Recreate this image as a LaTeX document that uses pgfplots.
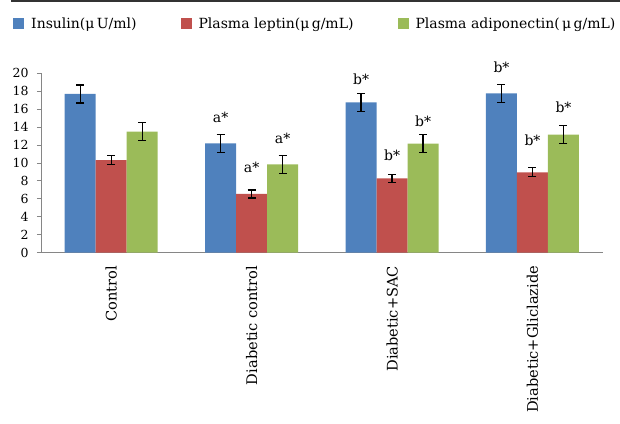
\documentclass[border=0pt]{standalone}
\usepackage{fontspec}
\setmainfont{DejaVu Serif}
\usepackage{pgfplots}
\usepackage{pgfplotstable}
\pgfplotsset{compat=1.18}

\definecolor{cBlue}{RGB}{79,129,189}
\definecolor{cRed}{RGB}{192,80,77}
\definecolor{cGreen}{RGB}{155,187,89}
\definecolor{axgray}{RGB}{134,134,134}

% x  value  error  label-baseline  label
\pgfplotstableread{
x y err ly lab
0 17.70 1.00 17.70 {}
1 12.20 1.00 14.57 {a*}
2 16.77 1.00 18.70 {b*}
3 17.77 1.00 20.07 {b*}
}\insulin
\pgfplotstableread{
x y err ly lab
0 10.33 0.50 10.33 {}
1 6.55 0.45 8.92 {a*}
2 8.29 0.45 10.33 {b*}
3 8.96 0.50 12.00 {b*}
}\leptin
\pgfplotstableread{
x y err ly lab
0 13.50 1.00 13.50 {}
1 9.85 1.00 12.20 {a*}
2 12.15 1.00 14.12 {b*}
3 13.16 1.00 15.60 {b*}
}\adipo

\begin{document}
\begin{tikzpicture}
\path[use as bounding box] (-41pt,-170.3pt) rectangle (579pt,252.7pt);
\begin{axis}[
    scale only axis,
    width=561.7pt, height=179.4pt,
    xmin=-0.5, xmax=3.5, ymin=0, ymax=20,
    ybar=0pt, bar width=31pt,
    axis lines*=left,
    axis line style={axgray, line width=1pt},
    tick align=outside,
    major tick length=4pt,
    ytick={0,2,...,20},
    y tick style={axgray, line width=1pt},
    yticklabel style={font=\fontsize{12.5}{14}\selectfont, xshift=-5pt,
        /pgf/number format/assume math mode=true},
    xtick={0,1,2,3},
    xticklabels={Control,Diabetic control,Diabetic+SAC,Diabetic+Gliclazide},
    x tick style={draw=none},
    xticklabel style={font=\fontsize{14.6}{17}\selectfont, rotate=90, anchor=east, inner sep=0pt},
    xticklabel shift=9pt,
    extra x ticks={-0.5,0.5,1.5,2.5,3.5},
    extra x tick labels={},
    extra x tick style={major tick length=5pt, tick style={axgray, line width=1pt, draw=axgray}},
    clip=false,
    legend columns=3,
    legend style={at={(-0.0498,1.2776)}, anchor=west, draw=none, fill=none, inner sep=0pt,
        font=\fontsize{14}{16}\selectfont,
        /tikz/every odd column/.append style={column sep=5pt},
        /tikz/every even column/.append style={column sep=42pt}},
    legend image code/.code={\fill[#1] (0pt,-5.5pt) rectangle (11pt,5.5pt);},
    point meta=explicit symbolic,
    nodes near coords,
    visualization depends on={\thisrow{ly}-\thisrow{y} \as \dl},
    nodes near coords style={anchor=base, inner sep=0pt, yshift=\dl*8.97pt,
        font=\fontsize{14}{16}\selectfont, black},
    error bars/error bar style={black, line width=1.2pt},
    error bars/error mark options={rotate=90, mark size=4pt, line width=1.2pt, black},
]
\addplot[fill=cBlue, draw=none, error bars/.cd, y dir=both, y explicit]
    table[x=x, y=y, y error=err, meta=lab]{\insulin};
\addplot[fill=cRed, draw=none, error bars/.cd, y dir=both, y explicit]
    table[x=x, y=y, y error=err, meta=lab]{\leptin};
\addplot[fill=cGreen, draw=none, error bars/.cd, y dir=both, y explicit]
    table[x=x, y=y, y error=err, meta=lab]{\adipo};
\legend{Insulin(μ\,U/ml),Plasma leptin(μ\,g/mL),Plasma adiponectin(\,μ\,g/mL)}
\end{axis}
\draw[line width=1.5pt, black!80] (-30pt,251.5pt) -- (579pt,251.5pt);
\end{tikzpicture}
\end{document}
